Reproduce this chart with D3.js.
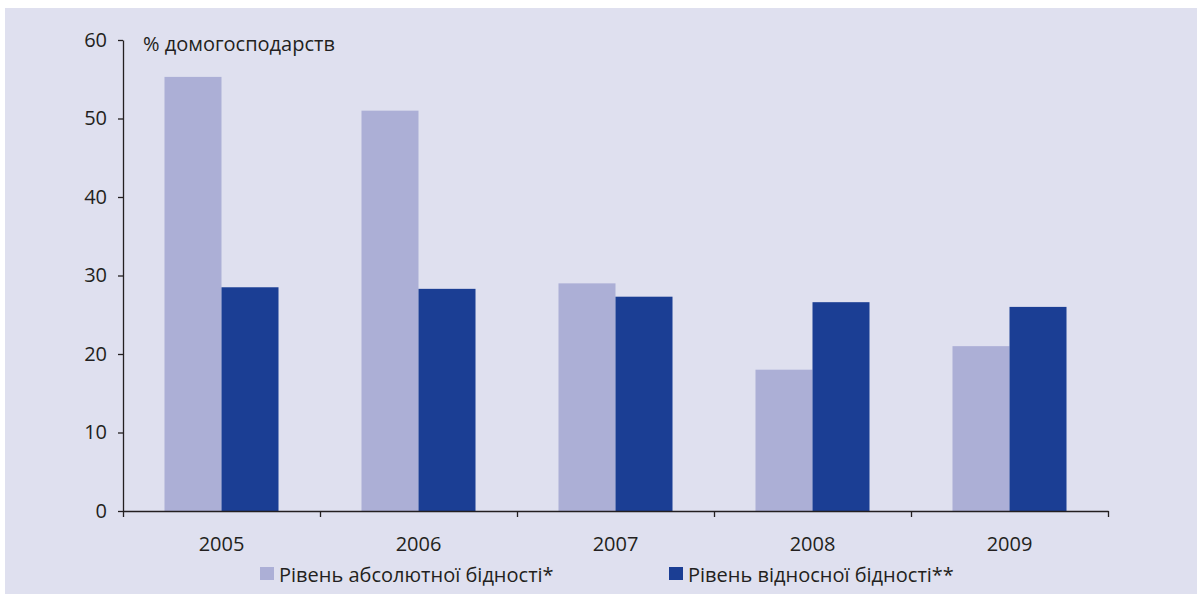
<!DOCTYPE html>
<html>
<head>
<meta charset="utf-8">
<script src="https://cdn.jsdelivr.net/npm/d3@7/dist/d3.min.js"></script>
<style>
  html, body { margin: 0; padding: 0; background: #ffffff; }
  svg { display: block; }
  text { font-family: "Open Sans", "Noto Sans", sans-serif; fill: #231f20; }
</style>
</head>
<body>
<script>
// Households in poverty, % (Ukraine, 2005–2009)
const years = ["2005", "2006", "2007", "2008", "2009"];
const seriesNames = ["Рівень абсолютної бідності*", "Рівень відносної бідності**"];
const absolutePoverty = [55.3, 51.0, 29.0, 18.0, 21.0];
const relativePoverty = [28.5, 28.3, 27.3, 26.6, 26.0];
const yTicks = [0, 10, 20, 30, 40, 50, 60];
const yUnitLabel = "% домогосподарств";

const seriesColors = ["#acafd6", "#1b3e94"];
const axisColor = "#231f20";
const fontSize = 20;

const width = 1197, height = 594;
const margin = { left: 123, right: 89, top: 40, bottom: 83 };
const innerW = width - margin.left - margin.right;
const innerH = height - margin.top - margin.bottom;

const svg = d3.select("body").append("svg")
  .attr("width", width).attr("height", height);

// panel background
svg.append("rect")
  .attr("x", 5).attr("y", 8)
  .attr("width", width - 5).attr("height", height - 8)
  .attr("fill", "#dfe0ef");

const g = svg.append("g").attr("transform", `translate(${margin.left},${margin.top})`);

const y = d3.scaleLinear().domain([0, 60]).range([innerH, 0]);
const x0 = d3.scaleBand().domain(years).range([0, innerW]).padding(0);
const x1 = d3.scaleBand().domain(seriesNames).range([0, x0.bandwidth()])
  .paddingInner(0).paddingOuter(0.728);

const rows = years.map((yr, i) => ({
  year: yr,
  values: [absolutePoverty[i], relativePoverty[i]]
}));

// bars
const groups = g.selectAll("g.year").data(rows).join("g")
  .attr("class", "year")
  .attr("transform", d => `translate(${x0(d.year)},0)`);

groups.selectAll("rect")
  .data(d => d.values.map((v, k) => ({ name: seriesNames[k], value: v, k })))
  .join("rect")
  .attr("x", d => x1(d.name))
  .attr("y", d => y(d.value))
  .attr("width", x1.bandwidth())
  .attr("height", d => innerH - y(d.value))
  .attr("fill", d => seriesColors[d.k]);

// y axis
const yAxis = g.append("g")
  .call(d3.axisLeft(y).tickValues(yTicks).tickSize(5).tickSizeOuter(0).tickPadding(11));
yAxis.select(".domain").attr("stroke", axisColor).attr("stroke-width", 1.3);
yAxis.selectAll(".tick line").attr("stroke", axisColor).attr("stroke-width", 1.3);
yAxis.selectAll(".tick text")
  .attr("font-size", fontSize)
  .style("font-family", "'Open Sans', 'Noto Sans', sans-serif")
  .attr("fill", axisColor);

// x axis: line with ticks at category boundaries
const xEdge = d3.scaleLinear().domain([0, years.length]).range([0, innerW]);
const xAxis = g.append("g")
  .attr("transform", `translate(0,${innerH})`)
  .call(d3.axisBottom(xEdge).tickValues(d3.range(years.length + 1))
    .tickFormat("").tickSize(6).tickSizeOuter(0));
xAxis.select(".domain").attr("stroke", axisColor).attr("stroke-width", 1.3);
xAxis.selectAll(".tick line").attr("stroke", axisColor).attr("stroke-width", 1.3);

// category labels
const xLabels = g.append("g")
  .attr("transform", `translate(0,${innerH})`)
  .call(d3.axisBottom(x0).tickSize(0).tickPadding(26));
xLabels.select(".domain").remove();
xLabels.selectAll(".tick text")
  .attr("font-size", fontSize)
  .style("font-family", "'Open Sans', 'Noto Sans', sans-serif")
  .attr("fill", axisColor);

// unit label
svg.append("text")
  .attr("x", 143).attr("y", 51)
  .attr("font-size", fontSize)
  .text(yUnitLabel);

// legend
const legendX = [260, 669];
const legend = svg.selectAll("g.legend").data(seriesNames).join("g")
  .attr("class", "legend")
  .attr("transform", (d, i) => `translate(${legendX[i]},567)`);
legend.append("rect")
  .attr("width", 14).attr("height", 13)
  .attr("fill", (d, i) => seriesColors[i]);
legend.append("text")
  .attr("x", 19).attr("y", 15)
  .attr("font-size", fontSize)
  .text(d => d);
</script>
</body>
</html>
